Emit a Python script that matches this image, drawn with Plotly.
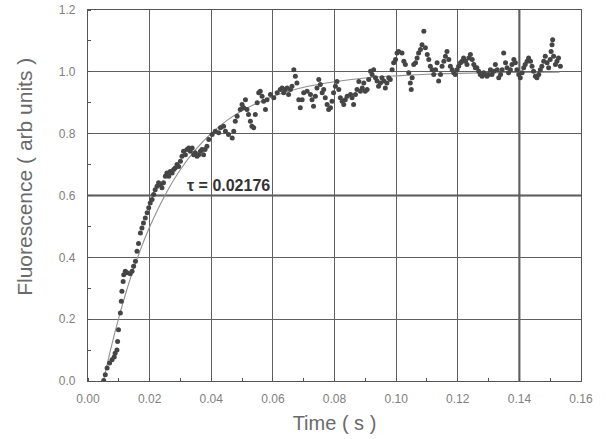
import plotly.graph_objects as go

# Measured points (time in s, fluorescence in arb. units)
time_s = [
    0.0051, 0.0056, 0.0062, 0.0070, 0.0078, 0.0085, 0.0088, 0.0094, 0.0096, 0.0099,
    0.0105, 0.0108, 0.0110, 0.0114, 0.0116, 0.0121, 0.0127, 0.0137, 0.0143, 0.0148,
    0.0154, 0.0159, 0.0164, 0.0170, 0.0175, 0.0180, 0.0186, 0.0192, 0.0197, 0.0202,
    0.0208, 0.0213, 0.0218, 0.0224, 0.0229, 0.0235, 0.0240, 0.0245, 0.0251, 0.0256,
    0.0262, 0.0267, 0.0273, 0.0278, 0.0283, 0.0289, 0.0294, 0.0300, 0.0305, 0.0310,
    0.0316, 0.0321, 0.0327, 0.0332, 0.0338, 0.0343, 0.0348, 0.0354, 0.0359, 0.0365,
    0.0370, 0.0375, 0.0380, 0.0386, 0.0392, 0.0403, 0.0413, 0.0424, 0.0430, 0.0440,
    0.0446, 0.0456, 0.0468, 0.0473, 0.0478, 0.0484, 0.0494, 0.0500, 0.0505, 0.0511,
    0.0516, 0.0521, 0.0527, 0.0532, 0.0538, 0.0543, 0.0549, 0.0554, 0.0559, 0.0565,
    0.0570, 0.0576, 0.0581, 0.0592, 0.0603, 0.0614, 0.0624, 0.0630, 0.0635, 0.0640,
    0.0646, 0.0651, 0.0657, 0.0662, 0.0668, 0.0673, 0.0678, 0.0684, 0.0689, 0.0695,
    0.0700, 0.0711, 0.0722, 0.0727, 0.0732, 0.0738, 0.0743, 0.0749, 0.0754, 0.0760,
    0.0765, 0.0770, 0.0776, 0.0781, 0.0787, 0.0792, 0.0797, 0.0803, 0.0808, 0.0814,
    0.0819, 0.0825, 0.0830, 0.0835, 0.0841, 0.0852, 0.0857, 0.0862, 0.0868, 0.0873,
    0.0879, 0.0884, 0.0890, 0.0895, 0.0900, 0.0906, 0.0911, 0.0917, 0.0922, 0.0927,
    0.0933, 0.0938, 0.0943, 0.0949, 0.0954, 0.0960, 0.0965, 0.0970, 0.0976, 0.0981,
    0.0987, 0.0992, 0.0998, 0.1003, 0.1008, 0.1019, 0.1025, 0.1030, 0.1041, 0.1046,
    0.1049, 0.1052, 0.1057, 0.1063, 0.1068, 0.1073, 0.1079, 0.1084, 0.1090, 0.1095,
    0.1101, 0.1106, 0.1111, 0.1117, 0.1122, 0.1128, 0.1133, 0.1138, 0.1144, 0.1149,
    0.1155, 0.1160, 0.1165, 0.1171, 0.1176, 0.1182, 0.1187, 0.1192, 0.1198, 0.1203,
    0.1209, 0.1214, 0.1219, 0.1225, 0.1230, 0.1236, 0.1241, 0.1247, 0.1252, 0.1257,
    0.1262, 0.1268, 0.1273, 0.1279, 0.1284, 0.1290, 0.1295, 0.1300, 0.1306, 0.1311,
    0.1317, 0.1322, 0.1328, 0.1333, 0.1339, 0.1344, 0.1349, 0.1355, 0.1360, 0.1365,
    0.1371, 0.1376, 0.1382, 0.1387, 0.1392, 0.1398, 0.1403, 0.1409, 0.1414, 0.1419,
    0.1425, 0.1430, 0.1436, 0.1441, 0.1446, 0.1452, 0.1457, 0.1463, 0.1468, 0.1473,
    0.1479, 0.1484, 0.1490, 0.1495, 0.1500, 0.1503, 0.1506, 0.1508, 0.1511, 0.1517,
    0.1522, 0.1527, 0.1533,
]
fluorescence = [
    0.002, 0.020, 0.042, 0.058, 0.069, 0.078, 0.090, 0.100, 0.128, 0.166,
    0.220, 0.258, 0.290, 0.322, 0.344, 0.355, 0.350, 0.347, 0.355, 0.371,
    0.387, 0.420, 0.445, 0.479, 0.495, 0.511, 0.527, 0.544, 0.560, 0.576,
    0.587, 0.603, 0.619, 0.630, 0.641, 0.635, 0.625, 0.641, 0.662, 0.673,
    0.662, 0.678, 0.673, 0.684, 0.689, 0.700, 0.694, 0.711, 0.727, 0.743,
    0.732, 0.749, 0.754, 0.743, 0.754, 0.732, 0.738, 0.727, 0.732, 0.743,
    0.749, 0.732, 0.749, 0.759, 0.781, 0.797, 0.808, 0.803, 0.819, 0.824,
    0.808, 0.797, 0.786, 0.808, 0.840, 0.856, 0.878, 0.894, 0.884, 0.910,
    0.878, 0.862, 0.840, 0.824, 0.819, 0.862, 0.900, 0.932, 0.937, 0.921,
    0.905, 0.878, 0.910, 0.927, 0.916, 0.932, 0.943, 0.948, 0.932, 0.943,
    0.948, 0.927, 0.943, 0.953, 1.007, 0.986, 0.964, 0.910, 0.884, 0.910,
    0.932, 0.937, 0.927, 0.910, 0.889, 0.921, 0.948, 0.975, 0.959, 0.932,
    0.943, 0.916, 0.894, 0.878, 0.884, 0.905, 0.932, 0.953, 0.969, 0.943,
    0.916, 0.905, 0.894, 0.910, 0.921, 0.927, 0.916, 0.894, 0.927, 0.943,
    0.969, 0.937, 0.948, 0.964, 0.937, 0.943, 0.975, 1.002, 0.991, 1.007,
    0.981, 0.970, 0.953, 0.964, 0.981, 0.970, 0.948, 0.964, 0.981, 0.975,
    1.007, 1.029, 1.040, 1.061, 1.066, 1.061, 1.034, 1.024, 0.997, 0.964,
    0.943, 0.981, 1.024, 1.029, 1.045, 1.061, 1.072, 1.088, 1.131, 1.078,
    1.056, 1.040, 1.018, 1.007, 0.991, 1.007, 1.029, 0.970, 0.991, 1.018,
    1.034, 1.050, 1.066, 1.040, 1.018, 1.007, 0.997, 0.991, 1.007, 1.018,
    1.029, 1.034, 1.045, 1.034, 1.024, 1.045, 1.056, 1.040, 1.024, 1.013,
    1.013, 1.002, 0.991, 0.986, 0.997, 0.991, 0.986, 0.991, 1.007, 0.991,
    1.002, 1.024, 1.007, 0.981, 0.991, 1.007, 1.061, 1.029, 1.013, 0.997,
    1.007, 1.024, 1.040, 1.029, 1.007, 0.991, 0.981, 0.997, 1.013, 1.024,
    1.034, 1.045, 1.034, 1.018, 1.002, 0.986, 0.981, 0.991, 1.007, 1.018,
    1.034, 1.050, 1.029, 1.013, 1.040, 1.066, 1.088, 1.104, 1.050, 1.024,
    1.034, 1.045, 1.018,
]

# Fitted curve
fit_time = [0.0050, 0.0075, 0.0100, 0.0125, 0.0150, 0.0175, 0.0200, 0.0250, 0.0300,
            0.0350, 0.0400, 0.0450, 0.0500, 0.0600, 0.0700, 0.0800, 0.0900, 0.1000,
            0.1100, 0.1200, 0.1300, 0.1400, 0.1530]
fit_value = [0.000, 0.108, 0.205, 0.292, 0.369, 0.437, 0.498, 0.601, 0.684,
             0.749, 0.801, 0.842, 0.874, 0.920, 0.950, 0.968, 0.980, 0.987,
             0.992, 0.995, 0.997, 0.998, 0.999]

x_ticks = [0.00, 0.02, 0.04, 0.06, 0.08, 0.10, 0.12, 0.14, 0.16]
x_tick_labels = ["0.00", "0.02", "0.04", "0.06", "0.08", "0.10", "0.12", "0.14", "0.16"]
y_ticks = [0.0, 0.2, 0.4, 0.6, 0.8, 1.0, 1.2]
y_tick_labels = ["0.0", "0.2", "0.4", "0.6", "0.8", "1.0", "1.2"]

FONT = "Liberation Sans, Arial, sans-serif"

fig = go.Figure()
fig.add_trace(go.Scatter(
    x=fit_time, y=fit_value, mode="lines",
    line=dict(color="#909090", width=1.1, shape="spline"),
    hoverinfo="skip", showlegend=False,
))
fig.add_trace(go.Scatter(
    x=time_s, y=fluorescence, mode="markers",
    marker=dict(color="#454545", size=5),
    showlegend=False,
))

fig.add_annotation(x=0.0455, y=0.632, text="<b>τ = 0.02176</b>", showarrow=False,
                   font=dict(family=FONT, size=16, color="#333333"))

# y-axis title, placed where it sits in the original
fig.add_annotation(xref="paper", yref="paper", x=-0.128, y=0.55, textangle=-90,
                   xanchor="center", yanchor="middle",
                   text="Fluorescence ( arb units )", showarrow=False,
                   font=dict(family=FONT, size=21, color="#6a6a6a"))

# darker scan-like grid lines at 0.6 and 0.14
fig.add_shape(type="line", xref="paper", x0=0, x1=1, yref="y", y0=0.6, y1=0.6,
              line=dict(color="#4a4a4a", width=2), layer="below")
fig.add_shape(type="line", yref="paper", y0=0, y1=1, xref="x", x0=0.14, x1=0.14,
              line=dict(color="#4a4a4a", width=2), layer="below")

axis_common = dict(
    showline=True, linecolor="#555555", linewidth=1.2, mirror=True,
    showgrid=True, gridcolor="#606060", gridwidth=1.1,
    zeroline=False, ticks="", automargin=False,
    tickfont=dict(family=FONT, size=12, color="#808080"),
)
fig.update_xaxes(
    range=[0, 0.16], tickvals=x_ticks, ticktext=x_tick_labels,
    ticklabelstandoff=6,
    title=dict(text="Time ( s )", font=dict(family=FONT, size=20, color="#6a6a6a"), standoff=11),
    minor=dict(ticks="inside", dtick=0.01, ticklen=3, tickcolor="#555555", showgrid=False),
    **axis_common,
)
fig.update_yaxes(
    range=[0, 1.2], tickvals=y_ticks, ticktext=y_tick_labels,
    ticklabelstandoff=9,
    minor=dict(ticks="inside", dtick=0.1, ticklen=3, tickcolor="#555555", showgrid=False),
    **axis_common,
)
fig.update_layout(
    width=606, height=439,
    margin=dict(l=88, r=25, t=10, b=58),
    paper_bgcolor="white", plot_bgcolor="white",
)
fig.write_html("out.html", config={"displayModeBar": False},
               post_script="document.body.style.margin='0';")
